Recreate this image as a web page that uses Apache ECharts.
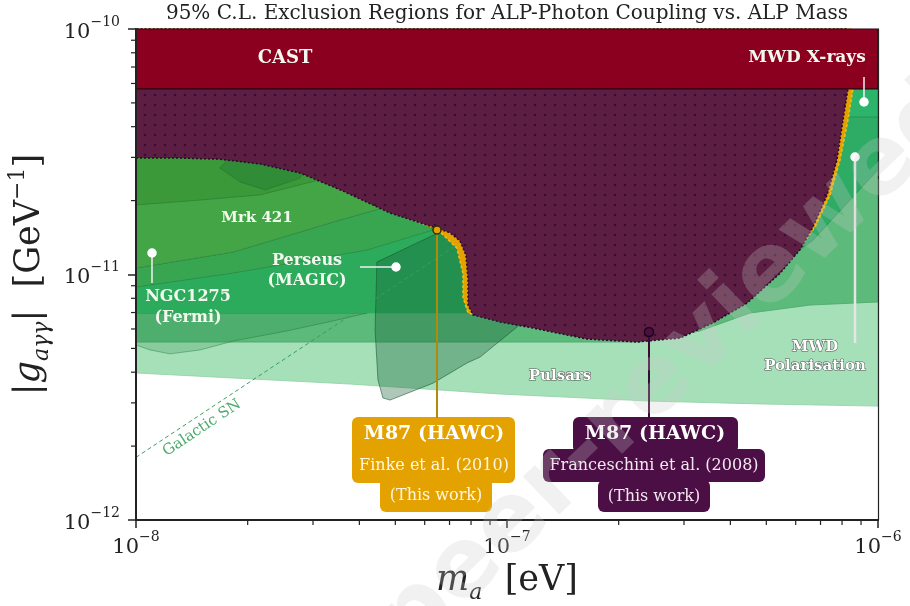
<!DOCTYPE html>
<html>
<head>
<meta charset="utf-8">
<script src="https://cdn.jsdelivr.net/npm/echarts@6/dist/echarts.min.js"></script>
<style>
  html, body { margin: 0; padding: 0; background: #fff; }
  #chart { width: 910px; height: 606px; }
</style>
</head>
<body>
<div id="chart"></div>
<script>
// values: [m_a (eV), |g| (GeV^-1)]
const castRegion = [[1e-8, 5.7e-11], [1e-6, 5.7e-11], [1e-6, 1e-10], [1e-8, 1e-10]];
const m87Franceschini = [
  [1e-8, 2.98e-11], [1.31e-8, 2.98e-11], [1.68e-8, 2.95e-11], [2.16e-8, 2.82e-11], [2.77e-8, 2.59e-11],
  [3.61e-8, 2.19e-11], [4.84e-8, 1.78e-11], [6.32e-8, 1.56e-11], [7.02e-8, 1.48e-11], [7.47e-8, 1.37e-11],
  [7.75e-8, 1.2e-11], [7.85e-8, 9.5e-12], [7.85e-8, 7.51e-12], [8.1e-8, 6.84e-12], [9.57e-8, 6.41e-12],
  [1.175e-7, 6.05e-12], [1.64e-7, 5.46e-12], [2.24e-7, 5.31e-12], [2.93e-7, 5.51e-12], [3.59e-7, 6.35e-12],
  [4.44e-7, 7.66e-12], [5.44e-7, 1.01e-11], [6.16e-7, 1.26e-11], [6.68e-7, 1.56e-11], [7.29e-7, 2.11e-11],
  [7.75e-7, 2.93e-11], [8.05e-7, 4.26e-11], [8.3e-7, 5.7e-11], [8.3e-7, 1e-10], [1e-8, 1e-10]
];
const m87Finke = [
  [1e-8, 3.07e-11], [1.31e-8, 3.07e-11], [1.68e-8, 3.04e-11], [2.16e-8, 2.9e-11], [2.77e-8, 2.67e-11],
  [3.94e-8, 2.09e-11], [5.15e-8, 1.75e-11], [6.48e-8, 1.53e-11], [7.33e-8, 1.28e-11], [7.61e-8, 1.01e-11],
  [7.61e-8, 8.1e-12], [7.85e-8, 6.97e-12], [9.57e-8, 6.53e-12], [1.175e-7, 6.17e-12], [1.64e-7, 5.56e-12],
  [2.24e-7, 5.36e-12], [2.93e-7, 5.62e-12], [3.59e-7, 6.53e-12], [4.44e-7, 7.87e-12], [5.44e-7, 1.04e-11],
  [6.16e-7, 1.29e-11], [6.76e-7, 1.56e-11], [7.43e-7, 2.11e-11], [7.9e-7, 2.93e-11], [8.3e-7, 4.26e-11],
  [8.56e-7, 5.7e-11], [8.56e-7, 1e-10], [1e-8, 1e-10]
];
const pulsars = [
  [1e-8, 5.31e-12], [2.28e-7, 5.31e-12], [3.31e-7, 5.89e-12], [4.52e-7, 6.97e-12], [6.56e-7, 7.51e-12],
  [1e-6, 7.73e-12], [1e-6, 2.91e-12], [4.81e-7, 2.97e-12], [2.43e-7, 3.05e-12], [9.57e-8, 3.26e-12],
  [3.77e-8, 3.58e-12], [1e-8, 3.97e-12]
];
const lowerBand = [
  [1e-8, 6.97e-12], [1.78e-7, 6.97e-12], [3.31e-7, 8.65e-12], [6.16e-7, 1.38e-11], [1e-6, 2.75e-11],
  [1e-6, 7.73e-12], [6.56e-7, 7.51e-12], [4.52e-7, 6.97e-12], [3.31e-7, 5.89e-12], [2.28e-7, 5.31e-12],
  [1e-8, 5.31e-12]
];
const ngcLower = [
  [1e-8, 6.97e-12], [4.2e-8, 6.97e-12], [3.4e-8, 6.47e-12], [2.55e-8, 5.89e-12], [1.83e-8, 5.36e-12],
  [1.49e-8, 4.93e-12], [1.235e-8, 4.75e-12], [1.09e-8, 4.93e-12], [1e-8, 5.16e-12]
];
const mainGreen = [
  [1e-8, 6.97e-12], [1e-8, 1.063e-11], [1.83e-8, 1.235e-11], [3.4e-8, 1.636e-11], [5.15e-8, 1.956e-11],
  [7.47e-8, 2.21e-11], [9e-8, 2.01e-11], [9e-8, 6.97e-12]
];
const ngcUpper = [
  [1e-8, 1.063e-11], [1.83e-8, 1.235e-11], [3.4e-8, 1.636e-11], [5.15e-8, 1.956e-11], [6.32e-8, 1.518e-11],
  [4.2e-8, 1.258e-11], [1.83e-8, 1.014e-11], [1e-8, 8.89e-12]
];
const mrk421 = [
  [1e-8, 3.21e-11], [3.77e-8, 3.21e-11], [5.83e-8, 2.21e-11], [5.15e-8, 1.956e-11], [3.4e-8, 1.636e-11],
  [1.83e-8, 1.235e-11], [1e-8, 1.063e-11]
];
const ngcTop = [
  [1e-8, 3.21e-11], [3.33e-8, 3.21e-11], [3.13e-8, 2.43e-11], [2.16e-8, 2.11e-11], [1.49e-8, 2.01e-11],
  [1e-8, 1.92e-11]
];
const darkPatch = [
  [1.79e-8, 2.98e-11], [2.94e-8, 2.98e-11], [2.77e-8, 2.47e-11], [2.23e-8, 2.21e-11], [1.91e-8, 2.38e-11],
  [1.68e-8, 2.72e-11]
];
const perseus = [
  [4.46e-8, 1.124e-11], [6.6e-8, 1.49e-11], [7.95e-8, 1.518e-11], [1.118e-7, 6.53e-12], [1.064e-7, 6.11e-12],
  [8.46e-8, 4.61e-12], [7.8e-8, 4.36e-12], [6.32e-8, 3.61e-12], [4.84e-8, 3.08e-12], [4.63e-8, 3.14e-12],
  [4.49e-8, 3.72e-12], [4.41e-8, 5.94e-12]
];
const mwdPol = [[7.8e-7, 5.14e-11], [1e-6, 5.14e-11], [1e-6, 2.67e-11], [6.68e-7, 1.38e-11], [6.16e-7, 1.26e-11]];
const mwdXrays = [[8.15e-7, 5.7e-11], [1e-6, 5.7e-11], [1e-6, 4.38e-11], [7.9e-7, 4.38e-11]];
const galacticSN = [[1e-8, 1.8e-12], [7.6e-8, 1.37e-11]];

const xMinor = [2e-8, 3e-8, 4e-8, 5e-8, 6e-8, 7e-8, 8e-8, 9e-8, 2e-7, 3e-7, 4e-7, 5e-7, 6e-7, 7e-7, 8e-7, 9e-7];
const yMinor = [2e-12, 3e-12, 4e-12, 5e-12, 6e-12, 7e-12, 8e-12, 9e-12, 2e-11, 3e-11, 4e-11, 5e-11, 6e-11, 7e-11, 8e-11, 9e-11];

const FF = 'DejaVu Serif';
const chart = echarts.init(document.getElementById('chart'));

// dotted fill for the Franceschini region
const tile = document.createElement('canvas');
tile.width = 10; tile.height = 10;
const tc = tile.getContext('2d');
tc.fillStyle = '#5c1f43'; tc.fillRect(0, 0, 10, 10);
tc.fillStyle = '#3a0b34'; tc.beginPath(); tc.arc(5, 5, 1.3, 0, Math.PI * 2); tc.fill();

function region(pts, style, z) {
  return {
    type: 'custom', coordinateSystem: 'cartesian2d', data: pts, z: z, silent: true,
    renderItem: function (params, api) {
      if (params.dataIndex !== 0) return null;
      return { type: 'polygon', shape: { points: pts.map(function (p) { return api.coord(p); }) }, style: style };
    }
  };
}

function minorTicks(vals, isX) {
  return {
    type: 'custom', coordinateSystem: 'cartesian2d', z: 20, silent: true, clip: false,
    data: vals.map(function (v) { return isX ? [v, 1e-12] : [1e-8, v]; }),
    renderItem: function (params, api) {
      const p = api.coord([api.value(0), api.value(1)]);
      const shape = isX ? { x1: p[0], y1: p[1], x2: p[0], y2: p[1] + 5 } : { x1: p[0] - 5, y1: p[1], x2: p[0], y2: p[1] };
      return { type: 'line', shape: shape, style: { stroke: '#222', lineWidth: 1.2 } };
    }
  };
}

const tickRich = {
  b: { fontFamily: FF, fontSize: 21, color: '#222', lineHeight: 28, verticalAlign: 'bottom' },
  s: { fontFamily: FF, fontSize: 14, color: '#222', lineHeight: 12, verticalAlign: 'top' }
};
const tickFmt = function (v) { return '{b|10}{s|\u2212' + Math.round(-Math.log10(v)) + '}'; };

const nameRich = {
  t: { fontFamily: FF, fontSize: 35, color: '#222', lineHeight: 46 },
  i: { fontFamily: FF, fontSize: 35, fontStyle: 'italic', color: '#222', lineHeight: 46 },
  sb: { fontFamily: FF, fontSize: 22, fontStyle: 'italic', color: '#222', lineHeight: 24, verticalAlign: 'bottom' },
  sp: { fontFamily: FF, fontSize: 22, color: '#222', lineHeight: 24, verticalAlign: 'top' }
};

function txt(x, y, text, size, extra) {
  return {
    type: 'text', x: x, y: y, z: 100, silent: true,
    style: Object.assign({ text: text, fill: '#f3f8ef', fontFamily: FF, fontSize: size, fontWeight: 'bold', align: 'center', verticalAlign: 'middle' }, extra || {})
  };
}
function seg(x1, y1, x2, y2, color, w) {
  return { type: 'line', z: 100, silent: true, shape: { x1: x1, y1: y1, x2: x2, y2: y2 }, style: { stroke: color, lineWidth: w } };
}
function dot(x, y, r, fill, stroke) {
  return { type: 'circle', z: 100, silent: true, shape: { cx: x, cy: y, r: r }, style: { fill: fill, stroke: stroke || fill, lineWidth: 1.5 } };
}
function box(x, y, w, h, color) {
  return { type: 'rect', z: 99, silent: true, shape: { x: x, y: y, width: w, height: h, r: 6 }, style: { fill: color } };
}

const GOLD = '#e4a200', PURPLE = '#4b0f45';
const outline = { fill: '#ffffff', stroke: '#555', lineWidth: 1.1, fontWeight: 'bold' };

const option = {
  animation: false,
  backgroundColor: '#fff',
  grid: { left: 136, right: 32, top: 29, bottom: 86, containLabel: false, outerBoundsMode: 'none' },
  xAxis: [
    {
      type: 'log', logBase: 10, min: 1e-8, max: 1e-6, z: 30,
      axisLine: { show: true, lineStyle: { color: '#222', width: 2 } },
      axisTick: { show: true, length: 8, lineStyle: { color: '#222', width: 1.5 } },
      splitLine: { show: false }, minorTick: { show: false },
      axisLabel: { formatter: tickFmt, rich: tickRich, margin: 10 },
      name: '{i|m}{sb|a}{t|  [eV]}', nameLocation: 'middle', nameGap: 38, nameTextStyle: { rich: nameRich }
    },
    { type: 'value', position: 'top', min: 0, max: 1, z: 30, axisLine: { show: true, lineStyle: { color: '#222', width: 1.2 } },
      axisTick: { show: false }, axisLabel: { show: false }, splitLine: { show: false } }
  ],
  yAxis: [
    {
      type: 'log', logBase: 10, min: 1e-12, max: 1e-10, z: 30,
      axisLine: { show: true, lineStyle: { color: '#222', width: 2 } },
      axisTick: { show: true, length: 8, lineStyle: { color: '#222', width: 1.5 } },
      splitLine: { show: false }, minorTick: { show: false },
      axisLabel: { formatter: tickFmt, rich: tickRich, margin: 16 },
      name: '{t||}{i|g}{sb|a\u03b3\u03b3}{t||  [GeV}{sp|\u22121}{t|]}', nameLocation: 'middle', nameGap: 74,
      nameTextStyle: { rich: nameRich }
    },
    { type: 'value', position: 'right', min: 0, max: 1, z: 30, axisLine: { show: true, lineStyle: { color: '#222', width: 1.2 } },
      axisTick: { show: false }, axisLabel: { show: false }, splitLine: { show: false } }
  ],
  series: [
    region(pulsars, { fill: '#a6e0b9', stroke: '#8fcfa3', lineWidth: 0.8 }, 2),
    region(lowerBand, { fill: '#5cba7b', stroke: '#4aa86a', lineWidth: 0.8 }, 3),
    region(ngcLower, { fill: 'rgba(30,130,60,0.22)', stroke: 'rgba(30,110,50,0.5)', lineWidth: 0.8 }, 4),
    region(mainGreen, { fill: '#2dab5d' }, 5),
    region(ngcUpper, { fill: '#38a650', stroke: 'rgba(30,110,50,0.5)', lineWidth: 0.8 }, 6),
    region(mrk421, { fill: '#44a547', stroke: 'rgba(30,110,50,0.5)', lineWidth: 0.8 }, 7),
    region(ngcTop, { fill: '#3b993a', stroke: 'rgba(30,100,40,0.5)', lineWidth: 0.8 }, 8),
    region(darkPatch, { fill: '#318c37', stroke: 'rgba(30,100,40,0.5)', lineWidth: 0.8 }, 9),
    region(perseus, { fill: 'rgba(20,95,55,0.35)', stroke: 'rgba(20,80,45,0.55)', lineWidth: 1 }, 10),
    {
      type: 'line', data: galacticSN, z: 11, silent: true, showSymbol: false,
      lineStyle: { type: [4, 3], color: '#3d9c5c', width: 1 }
    },
    region(mwdPol, { fill: '#2eab64', stroke: 'rgba(30,110,60,0.5)', lineWidth: 0.8 }, 12),
    region(mwdXrays, { fill: '#2cb46a', stroke: 'rgba(30,110,60,0.5)', lineWidth: 0.8 }, 13),
    region(m87Finke, { fill: GOLD, stroke: '#f3bd1a', lineWidth: 1.5, lineDash: [3, 2] }, 14),
    region(m87Franceschini, { fill: { image: tile, repeat: 'repeat' }, stroke: '#2a0828', lineWidth: 1.5, lineDash: [2, 2] }, 15),
    region(castRegion, { fill: '#8a001e', stroke: '#2a0010', lineWidth: 1.2 }, 16),
    minorTicks(xMinor, true),
    minorTicks(yMinor, false)
  ],
  graphic: [
    txt(507, 14, '95% C.L. Exclusion Regions for ALP-Photon Coupling vs. ALP Mass', 20, { fill: '#222', fontWeight: 'normal' }),
    txt(285, 58, 'CAST', 18),
    txt(807, 58, 'MWD X-rays', 17),
    seg(864, 77, 864, 102, '#f0f0f0', 1.5), dot(864, 102, 4, '#fff'),
    txt(257, 218, 'Mrk 421', 15),
    seg(152, 253, 152, 283, '#f0f0f0', 1.5), dot(152, 253, 4, '#fff'),
    txt(188, 297, 'NGC1275', 16), txt(188, 318, '(Fermi)', 16),
    txt(307, 261, 'Perseus', 16), txt(307, 281, '(MAGIC)', 16),
    seg(360, 267, 396, 267, '#f0f0f0', 1.5), dot(396, 267, 4, '#fff'),
    txt(560, 376, 'Pulsars', 15, outline),
    seg(855, 157, 855, 343, '#e6e6e6', 2.5), dot(855, 157, 4, '#fff'),
    txt(815, 347, 'MWD', 15, outline), txt(815, 366, 'Polarisation', 15, outline),
    {
      type: 'text', x: 202, y: 428, rotation: 33.7 * Math.PI / 180, z: 100, silent: true,
      style: { text: 'Galactic SN', fill: '#4aa96a', fontFamily: FF, fontSize: 15, align: 'center', verticalAlign: 'middle' }
    },
    seg(437, 234, 437, 418, '#b08a0c', 2), dot(437, 230, 4, GOLD, '#3a2a05'),
    seg(649, 336, 649, 418, '#3a0a33', 2), dot(649, 332, 4.5, '#4a1040', '#1d0019'),
    box(352, 417, 163, 66, GOLD), box(380, 478, 112, 34, GOLD),
    txt(434, 434, 'M87 (HAWC)', 19, { fill: '#fff' }),
    txt(434, 466, 'Finke et al. (2010)', 16, { fill: '#fff6e0', fontWeight: 'normal' }),
    txt(436, 496, '(This work)', 16, { fill: '#fff6e0', fontWeight: 'normal' }),
    box(573, 417, 165, 36, PURPLE), box(543, 449, 222, 33, PURPLE), box(598, 480, 112, 32, PURPLE),
    txt(655, 434, 'M87 (HAWC)', 19, { fill: '#fff' }),
    txt(654, 466, 'Franceschini et al. (2008)', 16, { fill: '#f4e8f0', fontWeight: 'normal' }),
    txt(654, 497, '(This work)', 16, { fill: '#f4e8f0', fontWeight: 'normal' }),
    {
      type: 'text', x: 593, y: 447, rotation: 44 * Math.PI / 180, z: 120, silent: true,
      style: { text: 'Not peer-reviewed', fill: 'rgba(200,200,200,0.26)', fontFamily: 'DejaVu Sans', fontWeight: 'bold', fontSize: 96, align: 'center', verticalAlign: 'middle' }
    }
  ]
};

chart.setOption(option);
window.addEventListener('resize', function () { chart.resize(); });
</script>
</body>
</html>
